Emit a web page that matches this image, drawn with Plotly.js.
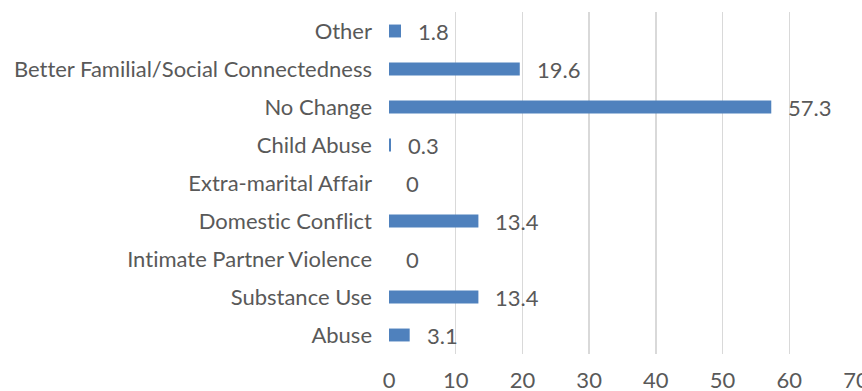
<!DOCTYPE html>
<html>
<head>
<meta charset="utf-8">
<script src="https://cdn.plot.ly/plotly-3.0.1.min.js"></script>
<style>
  html, body { margin: 0; padding: 0; background: #ffffff; }
  #chart { width: 862px; height: 391px; }
  #chart text { font-variant-ligatures: none; font-feature-settings: "liga" 0; }
</style>
</head>
<body>
<div id="chart"></div>
<script>
const categories = [
  "Abuse",
  "Substance Use",
  "Intimate Partner Violence",
  "Domestic Conflict",
  "Extra-marital Affair",
  "Child Abuse",
  "No Change",
  "Better Familial/Social Connectedness",
  "Other"
];
const values = [3.1, 13.4, 0, 13.4, 0, 0.3, 57.3, 19.6, 1.8];
const xTicks = [0, 10, 20, 30, 40, 50, 60, 70];

const FONT = "Lato, 'Open Sans', sans-serif";
const TEXT = "#595959";
const FS = 22;

const trace = {
  type: "bar",
  orientation: "h",
  y: categories,
  x: values,
  marker: { color: "#4F81BD" },
  hoverinfo: "none"
};

const annotations = categories.map((c, i) => ({
  x: values[i],
  y: c,
  xref: "x",
  yref: "y",
  text: String(values[i]),
  showarrow: false,
  xanchor: "left",
  yanchor: "middle",
  xshift: 15,
  font: { family: FONT, size: FS, color: TEXT }
}));

const layout = {
  width: 862,
  height: 391,
  margin: { l: 389, r: 6, t: 12, b: 37, pad: 0 },
  paper_bgcolor: "#ffffff",
  plot_bgcolor: "#ffffff",
  showlegend: false,
  bargap: 0.66,
  font: { family: FONT, size: FS, color: TEXT },
  xaxis: {
    range: [0, 70],
    tickvals: xTicks,
    ticktext: xTicks.map(String),
    showgrid: true,
    gridcolor: "#D9D9D9",
    gridwidth: 1.5,
    zeroline: false,
    showline: false,
    ticks: "",
    ticklabelstandoff: 11,
    ticklabeloverflow: "allow",
    tickfont: { family: FONT, size: FS, color: TEXT },
    fixedrange: true
  },
  yaxis: {
    type: "category",
    categoryorder: "array",
    categoryarray: categories,
    showgrid: false,
    zeroline: false,
    showline: false,
    ticks: "",
    ticklabelstandoff: 16,
    tickfont: { family: FONT, size: FS, color: TEXT },
    fixedrange: true
  },
  annotations: annotations
};

Plotly.newPlot("chart", [trace], layout, { displayModeBar: false, staticPlot: true });
</script>
</body>
</html>
